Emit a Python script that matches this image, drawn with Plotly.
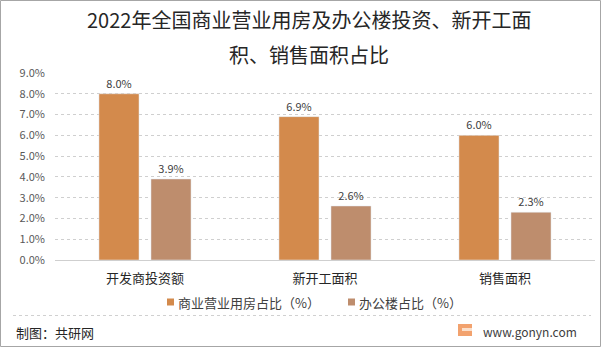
import plotly.graph_objects as go

categories = ["开发商投资额", "新开工面积", "销售面积"]
series_names = ["商业营业用房占比（%）", "办公楼占比（%）"]
series_colors = ["#D38A4C", "#BE8D6D"]
commercial = [0.080, 0.069, 0.060]
office = [0.039, 0.026, 0.023]
title_lines = ["2022年全国商业营业用房及办公楼投资、新开工面", "积、销售面积占比"]
source_text = "制图：共研网"
site_text = "www.gonyn.com"

W, H = 601, 348
L, R, T, B = 55, 6, 73, 88
PW, PH = W - L - R, H - T - B

def px(x):
    return (x - L) / PW

def py(y):
    return (H - B - y) / PH

FONT = "Noto Sans CJK SC, Microsoft YaHei, sans-serif"

fig = go.Figure()
for vals, name, col in [(commercial, series_names[0], series_colors[0]),
                        (office, series_names[1], series_colors[1])]:
    fig.add_trace(go.Bar(
        x=categories, y=vals, name=name,
        marker_color=col,
        texttemplate="%{y:.1%}", textposition="outside",
        textfont=dict(size=11, color="#404040"), cliponaxis=False,
    ))

fig.update_layout(
    width=W, height=H,
    margin=dict(l=L, r=R, t=T, b=B),
    paper_bgcolor="white", plot_bgcolor="white",
    font=dict(family=FONT, color="#404040"),
    barmode="group", bargap=0.422, bargroupgap=0.23,
    showlegend=False,
    xaxis=dict(
        showgrid=False, showline=False, ticks="",
        tickfont=dict(size=13, color="#262626"),
        ticklabelstandoff=9,
    ),
    yaxis=dict(
        range=[0, 0.09], dtick=0.01, tickformat=".1%",
        showgrid=True, gridcolor="#CFCFCF", griddash="dot", gridwidth=1,
        zeroline=True, zerolinecolor="#CFCFCF", zerolinewidth=1,
        showline=False, ticks="",
        tickfont=dict(size=11, color="#595959"),
        ticklabelstandoff=9,
    ),
)

annotations = [
    dict(text=title_lines[0], x=px(309), y=py(20), xref="paper", yref="paper",
         showarrow=False, xanchor="center", yanchor="middle",
         font=dict(size=20, color="#262626", family=FONT)),
    dict(text=title_lines[1], x=px(309), y=py(54), xref="paper", yref="paper",
         showarrow=False, xanchor="center", yanchor="middle",
         font=dict(size=20, color="#262626", family=FONT)),
    # legend texts
    dict(text=series_names[0], x=px(176), y=py(302), xref="paper", yref="paper",
         showarrow=False, xanchor="left", yanchor="middle",
         font=dict(size=13, color="#404040", family=FONT)),
    dict(text=series_names[1], x=px(357), y=py(302), xref="paper", yref="paper",
         showarrow=False, xanchor="left", yanchor="middle",
         font=dict(size=13, color="#404040", family=FONT)),
    dict(text=source_text, x=px(14), y=py(332), xref="paper", yref="paper",
         showarrow=False, xanchor="left", yanchor="middle",
         font=dict(size=13, color="#262626", family=FONT)),
    dict(text=site_text, x=px(481), y=py(331), xref="paper", yref="paper",
         showarrow=False, xanchor="left", yanchor="middle",
         font=dict(size=12, color="#404040", family=FONT)),
]

shapes = [
    # outer border
    dict(type="rect", xref="paper", yref="paper",
         x0=px(0.5), x1=px(600.5), y0=py(0.5), y1=py(346.5),
         line=dict(color="#A6A6A6", width=1), fillcolor="rgba(0,0,0,0)", layer="below"),
    # footer separator
    dict(type="line", xref="paper", yref="paper",
         x0=px(13), x1=px(591), y0=py(315.5), y1=py(315.5),
         line=dict(color="#D0D0D0", width=1, dash="dot")),
    # legend markers
    dict(type="rect", xref="paper", yref="paper",
         x0=px(167), x1=px(174), y0=py(298.5), y1=py(305.5),
         line=dict(width=0), fillcolor=series_colors[0]),
    dict(type="rect", xref="paper", yref="paper",
         x0=px(348), x1=px(355), y0=py(298.5), y1=py(305.5),
         line=dict(width=0), fillcolor=series_colors[1]),
    # logo
    dict(type="rect", xref="paper", yref="paper",
         x0=px(458), x1=px(472), y0=py(324), y1=py(336),
         line=dict(width=0), fillcolor="#F2A26E", layer="below"),
    dict(type="rect", xref="paper", yref="paper",
         x0=px(462), x1=px(472), y0=py(328), y1=py(331),
         line=dict(width=0), fillcolor="#FBE0CC"),
]

fig.update_layout(annotations=annotations, shapes=shapes)

fig.write_html("out.html")
